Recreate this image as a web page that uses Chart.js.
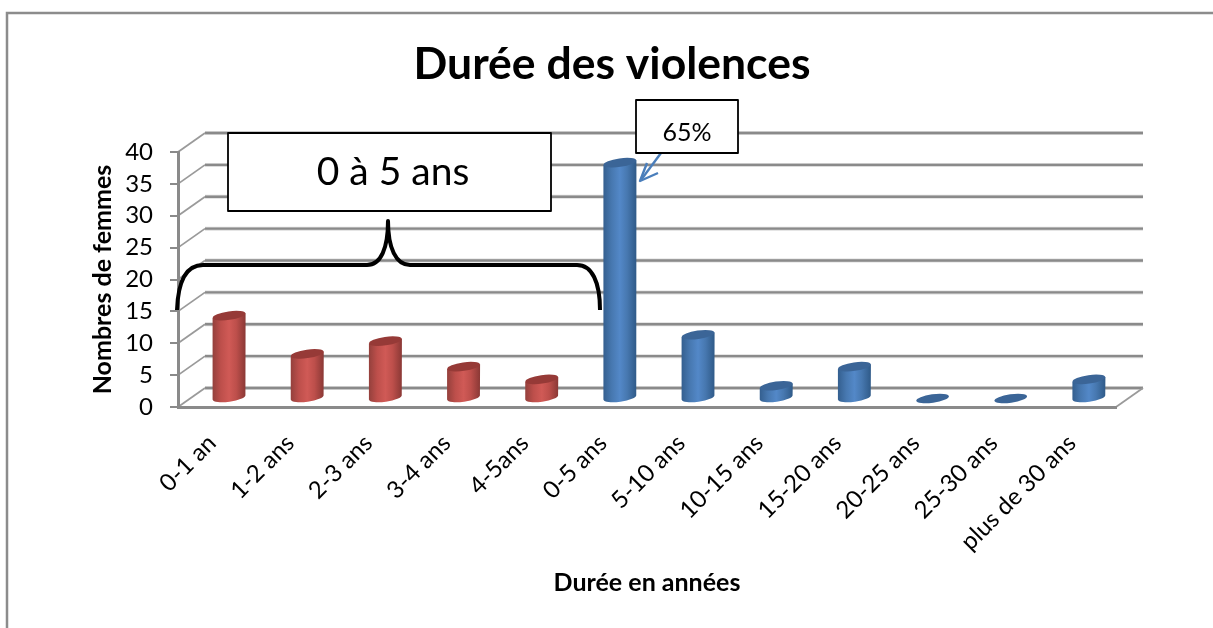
<!DOCTYPE html>
<html><head><meta charset="utf-8">
<style>html,body{margin:0;padding:0;background:#fff;overflow:hidden}#w{position:relative;width:1213px;height:628px}canvas{display:block}</style>
<script src="https://cdn.jsdelivr.net/npm/chart.js@4"></script>
</head><body><div id="w"><canvas id="c" width="1213" height="628"></canvas></div>
<script>
const categories = ['0-1 an','1-2 ans','2-3 ans','3-4 ans','4-5ans','0-5 ans','5-10 ans','10-15 ans','15-20 ans','20-25 ans','25-30 ans','plus de 30 ans'];
const womenCounts = [13,7,9,5,3,37,10,2,5,0,0,3];
const barColors = ['#C0504D','#C0504D','#C0504D','#C0504D','#C0504D','#4F81BD','#4F81BD','#4F81BD','#4F81BD','#4F81BD','#4F81BD','#4F81BD'];
const yTicks = [0,5,10,15,20,25,30,35,40];
const chartTitle = 'Durée des violences';
const xTitle = 'Durée en années';
const yTitle = 'Nombres de femmes';
const braceLabel = '0 à 5 ans';
const calloutLabel = '65%';

const FONT = 'Lato, "Open Sans", sans-serif';
const DEPTH_X = 27, DEPTH_Y = -19, BAR_DX = 12, BAR_DY = -8.5;
const GRID = '#8a8a8a';
const shades = {
  '#C0504D': {edgeL:'#94403c', base:'#bd4f4b', mid:'#d05a56', edgeR:'#8a3835', top:'#963a37'},
  '#4F81BD': {edgeL:'#345f8f', base:'#4778b0', mid:'#5388c8', edgeR:'#2f5a88', top:'#3b6597'}
};

const frame3d = {
  id:'frame3d',
  afterLayout(chart){
    chart.titleBlock.left += 10;
    chart.titleBlock.right += 10;
  },
  beforeDraw(chart){
    const {ctx, scales:{y}, chartArea:a} = chart;
    ctx.save();
    ctx.strokeStyle = '#8c8c8c'; ctx.lineWidth = 2.5;
    ctx.beginPath(); ctx.moveTo(7,628); ctx.lineTo(7,13); ctx.lineTo(1213,13); ctx.stroke();
    yTicks.forEach(v=>{
      const py = y.getPixelForValue(v);
      ctx.strokeStyle = '#dcdcdc'; ctx.lineWidth = 4;
      ctx.beginPath(); ctx.moveTo(a.left+DEPTH_X,py+DEPTH_Y); ctx.lineTo(a.right+DEPTH_X,py+DEPTH_Y); ctx.stroke();
      ctx.strokeStyle = GRID; ctx.lineWidth = 2.4;
      ctx.beginPath(); ctx.moveTo(a.left+DEPTH_X,py+DEPTH_Y); ctx.lineTo(a.right+DEPTH_X,py+DEPTH_Y); ctx.stroke();
      ctx.strokeStyle = '#9a9a9a'; ctx.lineWidth = 1.8;
      ctx.beginPath(); ctx.moveTo(a.left,py); ctx.lineTo(a.left+DEPTH_X,py+DEPTH_Y); ctx.stroke();
    });
    ctx.beginPath(); ctx.moveTo(a.right,a.bottom); ctx.lineTo(a.right+DEPTH_X,a.bottom+DEPTH_Y); ctx.stroke();
    ctx.restore();
  },
  afterDraw(chart){
    const ctx = chart.ctx;
    ctx.save();
    ctx.strokeStyle = '#000'; ctx.lineWidth = 4; ctx.lineJoin='round';
    ctx.beginPath();
    ctx.moveTo(177,310);
    ctx.bezierCurveTo(178,282,186,265,203,265);
    ctx.lineTo(367,265);
    ctx.bezierCurveTo(381,265,388,248,388,221);
    ctx.bezierCurveTo(388,248,396,265,410,265);
    ctx.lineTo(577,265);
    ctx.bezierCurveTo(592,265,600,282,600,310);
    ctx.stroke();
    ctx.strokeStyle = '#4a7ebb'; ctx.lineWidth = 2.4;
    ctx.beginPath(); ctx.moveTo(661,153); ctx.lineTo(641,180); ctx.stroke();
    ctx.beginPath(); ctx.moveTo(647,163); ctx.lineTo(640,181); ctx.lineTo(658,173); ctx.stroke();
    ctx.fillStyle='#fff'; ctx.strokeStyle='#000'; ctx.lineWidth=1.8;
    ctx.fillRect(228,133,323,78); ctx.strokeRect(228,133,323,78);
    ctx.fillRect(636,100,102,53); ctx.strokeRect(636,100,102,53);
    ctx.fillStyle='#000'; ctx.textAlign='center'; ctx.textBaseline='middle';
    ctx.font='39px '+FONT; ctx.fillText(braceLabel,393,172);
    ctx.font='25px '+FONT; ctx.fillText(calloutLabel,687,133);
    ctx.restore();
  },
  beforeDatasetDraw(chart,args){
    const ctx = chart.ctx;
    const ds = chart.data.datasets[args.index];
    const meta = args.meta;
    const rot = -8*Math.PI/180, ry = 4.2;
    meta.data.forEach((bar,i)=>{
      const rx = bar.width/2;
      const cx = bar.x+BAR_DX, yt = bar.y+BAR_DY, yb = bar.base+BAR_DY;
      const s = shades[ds.backgroundColor[i]];
      const dy = rx*Math.sin(rot);
      ctx.save();
      if(yb-yt>0.5){
        const g = ctx.createLinearGradient(cx-rx,0,cx+rx,0);
        g.addColorStop(0,s.edgeL); g.addColorStop(0.25,s.base); g.addColorStop(0.5,s.mid); g.addColorStop(0.72,s.base); g.addColorStop(1,s.edgeR);
        ctx.fillStyle=g;
        ctx.beginPath();
        ctx.moveTo(cx-rx,yt-dy);
        ctx.lineTo(cx-rx,yb-dy);
        ctx.ellipse(cx,yb,rx,ry,rot,Math.PI,0,true);
        ctx.lineTo(cx+rx,yt+dy);
        ctx.closePath();
        ctx.fill();
      }
      ctx.fillStyle=s.top;
      ctx.beginPath(); ctx.ellipse(cx,yt,rx,ry,rot,0,Math.PI*2); ctx.fill();
      ctx.restore();
    });
    return false;
  }
};

new Chart(document.getElementById('c'),{
  type:'bar',
  data:{labels:categories,datasets:[{label:yTitle,data:womenCounts,backgroundColor:barColors,barThickness:33}]},
  plugins:[frame3d],
  options:{
    responsive:false,animation:false,
    layout:{padding:{left:88,right:97,top:0,bottom:0}},
    plugins:{
      legend:{display:false},tooltip:{enabled:false},
      title:{display:true,text:chartTitle,color:'#000',font:{family:FONT,size:44.5,weight:'bold'},padding:{top:38,bottom:60.6}}
    },
    scales:{
      x:{
        grid:{display:true,drawOnChartArea:false,drawTicks:false,color:GRID},
        border:{display:true,color:GRID,width:3},
        ticks:{color:'#000',font:{family:FONT,size:24},minRotation:45,maxRotation:45,autoSkip:false,padding:22,labelOffset:-5},
        title:{display:true,text:xTitle,color:'#000',font:{family:FONT,size:25,weight:'bold'},padding:{top:8,bottom:30}},
        afterFit(s){s.height=221;}
      },
      y:{
        min:0,max:40,
        grid:{drawOnChartArea:false,color:GRID,tickLength:8,lineWidth:2},
        border:{display:true,color:GRID,width:3},
        ticks:{color:'#000',font:{family:FONT,size:24},stepSize:5,padding:17},
        title:{display:true,text:yTitle,color:'#000',font:{family:FONT,size:25,weight:'bold'},padding:{top:0,bottom:0}},
        afterFit(s){s.width=90;}
      }
    }
  }
});
</script></body></html>
